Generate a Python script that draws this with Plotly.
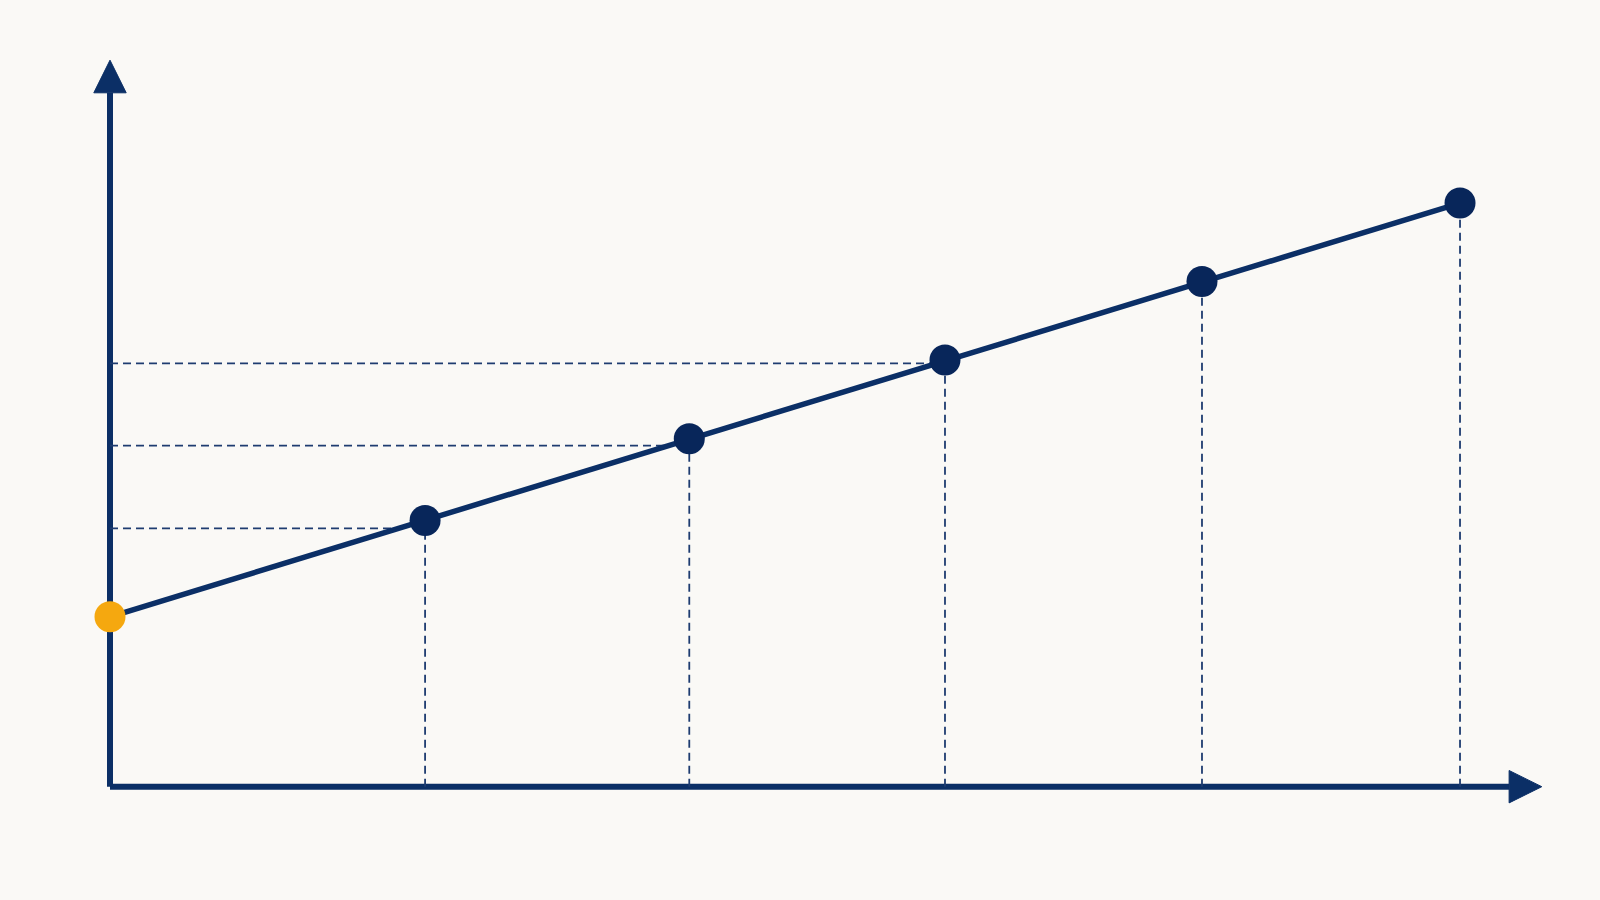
import plotly.graph_objs as go

# values (1 unit = 257 px on both axes)
x_vals = [0, 1.226, 2.254, 3.249, 4.249, 5.253]
y_vals = [0.661, 1.036, 1.354, 1.660, 1.966, 2.271]
guide_idx = [1, 2, 3]            # points with a horizontal guide to the y axis
guide_y = [1.005, 1.327, 1.647]  # the guides sit a touch below the dot centres
x_axis_end = 5.444
y_axis_end = 2.70
arrow_len = 0.127
arrow_half = 0.063

navy = '#0B2F66'
dot_navy = '#08265A'
dash_col = '#1E3C70'
orange = '#F5A80F'
bg = '#FAF9F6'

fig = go.Figure()

# axes
fig.add_trace(go.Scatter(x=[0, x_axis_end], y=[0, 0], mode='lines',
                         line=dict(color=navy, width=6), hoverinfo='skip'))
fig.add_trace(go.Scatter(x=[0, 0], y=[0, y_axis_end], mode='lines',
                         line=dict(color=navy, width=6), hoverinfo='skip'))
# arrow heads
fig.add_trace(go.Scatter(x=[x_axis_end, x_axis_end + arrow_len, x_axis_end, x_axis_end],
                         y=[-arrow_half, 0, arrow_half, -arrow_half],
                         mode='lines', fill='toself', fillcolor=navy,
                         line=dict(color=navy, width=1), hoverinfo='skip'))
fig.add_trace(go.Scatter(x=[-arrow_half, 0, arrow_half, -arrow_half],
                         y=[y_axis_end, y_axis_end + arrow_len, y_axis_end, y_axis_end],
                         mode='lines', fill='toself', fillcolor=navy,
                         line=dict(color=navy, width=1), hoverinfo='skip'))

# dashed guides down to the x axis
for i in range(1, len(x_vals)):
    fig.add_trace(go.Scatter(x=[x_vals[i], x_vals[i]], y=[0, y_vals[i]], mode='lines',
                             line=dict(color=dash_col, width=1.8, dash='8px,5px'),
                             hoverinfo='skip'))
# dashed guides across to the y axis, stopping where they hit the line
for i, gy in zip(guide_idx, guide_y):
    x0, x1, y0, y1 = x_vals[i - 1], x_vals[i], y_vals[i - 1], y_vals[i]
    x_end = x0 + (gy - y0) * (x1 - x0) / (y1 - y0)
    fig.add_trace(go.Scatter(x=[0, x_end], y=[gy, gy], mode='lines',
                             line=dict(color=dash_col, width=1.8, dash='8px,5px'),
                             hoverinfo='skip'))

# the line and its points
fig.add_trace(go.Scatter(x=x_vals, y=y_vals, mode='lines',
                         line=dict(color=navy, width=5.5), hoverinfo='skip'))
fig.add_trace(go.Scatter(x=x_vals[1:], y=y_vals[1:], mode='markers',
                         marker=dict(color=dot_navy, size=31), hoverinfo='skip'))
fig.add_trace(go.Scatter(x=x_vals[:1], y=y_vals[:1], mode='markers',
                         marker=dict(color=orange, size=31), hoverinfo='skip'))

fig.update_layout(width=1600, height=900, margin=dict(l=0, r=0, t=0, b=0),
                  paper_bgcolor=bg, plot_bgcolor=bg, showlegend=False,
                  xaxis=dict(visible=False, range=[-110 / 257, 1490 / 257], fixedrange=True),
                  yaxis=dict(visible=False, range=[-113.3 / 257, 786.7 / 257], fixedrange=True))

fig.write_html("out.html", config={'displayModeBar': False},
               post_script="document.body.style.margin='0';"
                           "document.body.style.background='" + bg + "';")
